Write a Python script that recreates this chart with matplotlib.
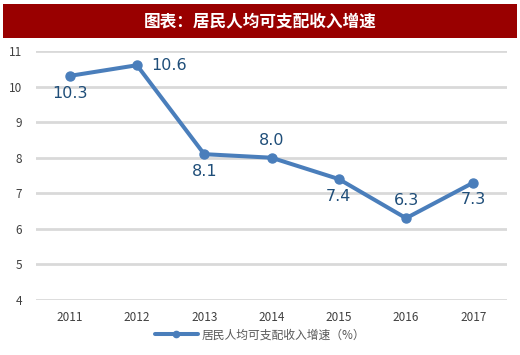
import matplotlib
matplotlib.use("Agg")
import matplotlib.pyplot as plt
from matplotlib.patches import Rectangle

plt.rcParams['font.family'] = ['Noto Sans CJK SC', 'DejaVu Sans']

years = ['2011', '2012', '2013', '2014', '2015', '2016', '2017']
growth = [10.3, 10.6, 8.1, 8.0, 7.4, 6.3, 7.3]
label_pos = ['below', 'right', 'below', 'above', 'below', 'above', 'below']
yticks = [4, 5, 6, 7, 8, 9, 10, 11]
title = '图表：居民人均可支配收入增速'
series_name = '居民人均可支配收入增速（%）'

W, H = 520, 355
fig = plt.figure(figsize=(W / 100, H / 100), dpi=100)
fig.patch.set_facecolor('white')

# title bar
fig.patches.append(Rectangle((3 / W, 1 - 38 / H), 514 / W, 34 / H,
                             transform=fig.transFigure, facecolor='#990000',
                             edgecolor='none', zorder=0))
fig.text(260 / W, 1 - 21 / H, title, color='white', fontsize=12,
         fontweight='bold', ha='center', va='center')

ax = fig.add_axes([36 / W, 1 - 300 / H, 471 / W, 249 / H])
x = list(range(len(years)))
color = '#4a7ebb'
ax.plot(x, growth, color=color, lw=2.9, marker='o', markersize=6.5,
        solid_capstyle='round', zorder=3, label=series_name)

ax.set_xlim(-0.5, len(years) - 0.5)
ax.set_ylim(4, 11)
ax.set_yticks(yticks)
ax.set_xticks(x)
ax.set_xticklabels(years)
ax.grid(axis='y', color='#d9d9d9', lw=2)
ax.set_axisbelow(True)
for s in ax.spines.values():
    s.set_visible(False)
ax.tick_params(axis='both', length=0, labelsize=8.5, colors='#404040')
ax.tick_params(axis='y', pad=10)
ax.tick_params(axis='x', pad=8)

for xi, v, p in zip(x, growth, label_pos):
    txt = f'{v:.1f}'
    kw = dict(textcoords='offset points', fontsize=11.5, color='#1f4e79',
              family='DejaVu Sans')
    if p == 'below':
        ax.annotate(txt, (xi, v), xytext=(0, -7), ha='center', va='top', **kw)
    elif p == 'above':
        ax.annotate(txt, (xi, v), xytext=(0, 7), ha='center', va='bottom', **kw)
    else:
        ax.annotate(txt, (xi, v), xytext=(10, 0), ha='left', va='center', **kw)

leg = fig.legend(loc='center', bbox_to_anchor=(260 / W, 1 - 335 / H),
                 frameon=False, fontsize=8.5, handlelength=3.6,
                 handletextpad=0.3, labelcolor='#595959')
for h in leg.legend_handles:
    h.set_markersize(4.5)

fig.savefig('out.png', dpi=100)
